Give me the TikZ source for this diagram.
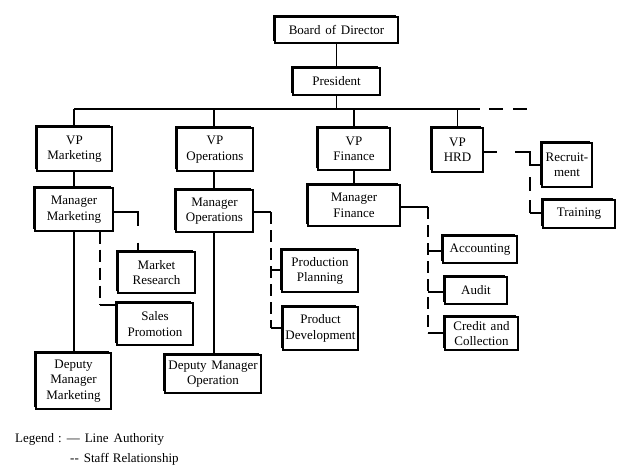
\documentclass[tikz,border=0pt]{standalone}
\usepackage{fontspec}
\setmainfont{Liberation Serif}
\usetikzlibrary{shadows}
\tikzset{
  box/.style={draw=black, fill=white, line width=1.2pt, align=center, inner sep=1pt,
    font=\fontsize{13}{15.5}\selectfont,
    general shadow={fill=black, shadow xshift=-2.4pt, shadow yshift=2.4pt}},
  line/.style={draw=black, line width=1.5pt},
  staff/.style={draw=black, line width=1.5pt, dash pattern=on 12pt off 6pt},
  lgd/.style={font=\fontsize{13}{15}\selectfont, anchor=base west, inner sep=0pt}
}
\begin{document}
\begin{tikzpicture}[x=1pt,y=-1pt]
\useasboundingbox (0,0) rectangle (621,472);
% nodes
\node[box, minimum width=123pt, minimum height=26pt] (board) at (336.5,30) {Board\hspace{1.5pt} of\hspace{1.5pt} Director};
\node[box, minimum width=87pt, minimum height=27pt] (pres) at (336.5,81.5) {President};
\node[box, minimum width=75pt, minimum height=44pt] (vpm) at (74.5,149) {VP\\Marketing};
\node[box, minimum width=76pt, minimum height=43pt] (vpo) at (215,149.5) {VP\\Operations};
\node[box, minimum width=72pt, minimum height=42pt] (vpf) at (354,149) {VP\\Finance};
\node[box, minimum width=51pt, minimum height=44pt] (vph) at (457.5,150) {VP\\HRD};
\node[box, minimum width=50pt, minimum height=44pt] (rec) at (567,165) {Recruit-\\ment};
\node[box, minimum width=72pt, minimum height=28pt] (trn) at (579,214) {Training};
\node[box, minimum width=78pt, minimum height=43pt] (mm) at (74,209.5) {Manager\\Marketing};
\node[box, minimum width=77pt, minimum height=42pt] (mo) at (214.5,211) {Manager\\Operations};
\node[box, minimum width=92pt, minimum height=41pt] (mf) at (354,205.5) {Manager\\Finance};
\node[box, minimum width=77pt, minimum height=41pt] (mr) at (156.5,272.5) {Market\\Research};
\node[box, minimum width=76pt, minimum height=42pt] (sp) at (155,324) {Sales\\Promotion};
\node[box, minimum width=75pt, minimum height=56pt] (dmm) at (73.5,381) {Deputy\\Manager\\Marketing};
\node[box, minimum width=96pt, minimum height=38pt] (dmo) at (213,374) {Deputy\hspace{1.5pt} Manager\\Operation};
\node[box, minimum width=76pt, minimum height=42pt] (pp) at (320,271) {Production\\Planning};
\node[box, minimum width=75pt, minimum height=43pt] (pd) at (320.5,328.5) {Product\\Development};
\node[box, minimum width=74pt, minimum height=27pt] (acc) at (480,249.5) {Accounting};
\node[box, minimum width=62pt, minimum height=27pt] (aud) at (476,290.5) {Audit};
\node[box, minimum width=73pt, minimum height=33pt] (cc) at (481.5,333.5) {Credit\hspace{1.5pt} and\\Collection};

% bus coordinates
\coordinate (busL) at (74,109);
\coordinate (busO) at (214,109);
\coordinate (busM) at (336.5,109);
\coordinate (busS) at (480,109);
\coordinate (busE) at (527,109);

% line authority
\draw[line] (board.south) -- (pres.north);
\draw[line] (pres.south) -- (busM);
\draw[line] (busL) -- (busS);
\draw[line, dash pattern=on 0pt off 9pt on 14pt off 10pt on 14pt] (busS) -- (busE);
\draw[line] (busL) -- (busL |- vpm.north);
\draw[line] (busO) -- (busO |- vpo.north);
\draw[line] (vpf.north |- busL) -- (vpf.north);
\draw[line] (vph.north |- busL) -- (vph.north);
\draw[line] (vpm.south -| busL) -- (mm.north -| busL);
\draw[line] (vpo.south -| busO) -- (mo.north -| busO);
\draw[line] (vpf.south) -- (mf.north);
\draw[line] (mm.south -| busL) -- (dmm.north -| busL);
\draw[line] (mo.south -| busO) -- (dmo.north -| busO);

% staff relationship: HRD
\coordinate (h1) at (497,152);
\coordinate (h2) at (515,152);
\coordinate (h3) at (530,152);
\coordinate (h4) at (530,165);
\coordinate (h5) at (530,213);
\draw[line] (vph.east |- h1) -- (h1);
\draw[line] (h2) -- (h3) -- (h4) -- (rec.west |- h4);
\draw[line, dash pattern=on 0pt off 12pt on 14pt off 9pt on 20pt] (h4) -- (h5);
\draw[line] (h5) -- (trn.west |- h5);

% Manager Marketing
\coordinate (m1) at (138,212);
\draw[line, dash pattern=on 38pt off 17pt on 20pt] (mm.east |- m1) -- (m1) -- (mr.north -| m1);
\coordinate (m2) at (100,305);
\draw[staff] (mm.south -| m2) -- (m2);
\draw[line] (m2) -- (sp.west |- m2);

% Manager Operations
\coordinate (o1) at (271,212);
\coordinate (o2) at (271,270);
\coordinate (o3) at (271,328);
\draw[line] (mo.east |- o1) -- (o1);
\draw[staff] (o1) -- (o3);
\draw[line] (o2) -- (pp.west |- o2);
\draw[line] (o3) -- (pd.west |- o3);

% Manager Finance
\coordinate (f1) at (428,207);
\coordinate (f2) at (428,251);
\coordinate (f3) at (428,292);
\coordinate (f4) at (428,333);
\draw[line] (mf.east |- f1) -- (f1);
\draw[staff] (f1) -- (f4);
\draw[line] (f2) -- (acc.west |- f2);
\draw[line] (f3) -- (aud.west |- f3);
\draw[line] (f4) -- (cc.west |- f4);

% legend
\node[lgd] (lg1) at (15,442) {Legend\hspace{4pt}:\hspace{5pt}—\hspace{5pt}Line\hspace{5pt}Authority};
\node[lgd] (lg2) at (70,462) {-{}-\hspace{5pt}Staff\hspace{4pt}Relationship};
\end{tikzpicture}
\end{document}
